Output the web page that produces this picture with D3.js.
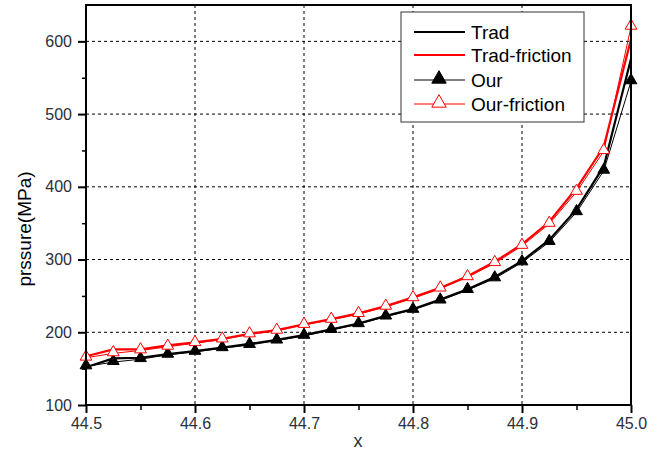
<!DOCTYPE html>
<html>
<head>
<meta charset="utf-8">
<script src="https://cdn.jsdelivr.net/npm/d3@7"></script>
<style>
body { margin: 0; background: #fff; }
svg { display: block; font-family: "Liberation Sans", Arial, sans-serif; }
.axis path, .axis line { stroke: #000; stroke-width: 2px; }
.axis text { font-size: 16px; fill: #2b2f3a; }
.minor line { stroke-width: 1.5px; }
.grid line { stroke: #000; stroke-width: 1px; stroke-dasharray: 3,3; }
</style>
</head>
<body>
<svg width="648" height="455"></svg>
<script>
var xs = [44.5, 44.525, 44.55, 44.575, 44.6, 44.625, 44.65, 44.675, 44.7, 44.725, 44.75,
          44.775, 44.8, 44.825, 44.85, 44.875, 44.9, 44.925, 44.95, 44.975, 45.0];

var trad         = [152, 164, 165, 170, 174, 179, 184, 189.5, 196, 204, 212, 222.5, 232, 245, 259, 276, 298, 327, 369, 428, 576];
var tradFriction = [167, 176.5, 176.5, 182, 186, 191, 198, 203, 211, 218, 226, 236, 248, 261, 277, 297, 321, 352, 398, 455, 603];
var our          = [153, 159, 163, 169, 173, 178, 182.5, 188.5, 195, 203, 211, 221.5, 230.7, 243.5, 258, 274, 296, 324, 365, 422, 545];
var ourFriction  = [165, 171, 175, 180, 185, 190, 197, 202, 210, 217, 225, 235, 246.7, 260, 275.6, 295, 318.7, 349, 393, 449, 620];

var xTicks = [44.5, 44.6, 44.7, 44.8, 44.9, 45.0];
var yTicks = [100, 200, 300, 400, 500, 600];
var seriesNames = ["Trad", "Trad-friction", "Our", "Our-friction"];

var svg = d3.select("svg"),
    margin = {top: 5, right: 17, bottom: 50, left: 86},
    width = +svg.attr("width") - margin.left - margin.right,
    height = +svg.attr("height") - margin.top - margin.bottom,
    g = svg.append("g").attr("transform", "translate(" + margin.left + "," + margin.top + ")");

var x = d3.scaleLinear().domain([44.5, 45.0]).range([0, width]);
var y = d3.scaleLinear().domain([100, 650]).range([height, 0]);

var series = [
  {name: seriesNames[0], values: trad, color: "#000", width: 2.2, marker: null},
  {name: seriesNames[1], values: tradFriction, color: "#f00", width: 2.2, marker: null},
  {name: seriesNames[2], values: our, color: "#000", width: 1, marker: "filled"},
  {name: seriesNames[3], values: ourFriction, color: "#f00", width: 1, marker: "hollow"}
];

// grid
g.append("g").attr("class", "grid")
  .selectAll("line")
  .data(yTicks.slice(1))
  .enter().append("line")
    .attr("x1", 0).attr("x2", width)
    .attr("y1", function(d) { return y(d); })
    .attr("y2", function(d) { return y(d); });

g.append("g").attr("class", "grid")
  .selectAll("line")
  .data(xTicks.slice(1, -1))
  .enter().append("line")
    .attr("y1", 0).attr("y2", height)
    .attr("x1", function(d) { return x(d); })
    .attr("x2", function(d) { return x(d); });

// minor ticks
g.append("g").attr("class", "axis minor")
  .attr("transform", "translate(0," + height + ")")
  .call(d3.axisBottom(x).tickValues([44.55, 44.65, 44.75, 44.85, 44.95]).tickSize(5).tickFormat(""))
  .select(".domain").remove();

g.append("g").attr("class", "axis minor")
  .call(d3.axisLeft(y).tickValues([150, 250, 350, 450, 550]).tickSize(4).tickFormat(""))
  .select(".domain").remove();

// lines
var tri = d3.symbol().type(d3.symbolTriangle).size(60);

series.forEach(function(s) {
  var line = d3.line()
    .x(function(d, i) { return x(xs[i]); })
    .y(function(d) { return y(d); });

  g.append("path")
    .datum(s.values)
    .attr("fill", "none")
    .attr("stroke", s.color)
    .attr("stroke-width", s.width)
    .attr("d", line);

  if (s.marker) {
    g.append("g").selectAll("path")
      .data(s.values)
      .enter().append("path")
        .attr("d", tri)
        .attr("transform", function(d, i) { return "translate(" + x(xs[i]) + "," + (y(d) - 1) + ")"; })
        .attr("fill", s.marker == "filled" ? "#000" : "#fff")
        .attr("stroke", s.color)
        .attr("stroke-width", 1);
  }
});

// axes
g.append("g")
  .attr("class", "axis axis--x")
  .attr("transform", "translate(0," + height + ")")
  .call(d3.axisBottom(x).tickValues(xTicks).tickSize(8).tickPadding(5).tickFormat(d3.format(".1f")));

g.append("g")
  .attr("class", "axis axis--y")
  .call(d3.axisLeft(y).tickValues(yTicks).tickSize(8).tickPadding(6));

g.selectAll(".axis--x .domain, .axis--y .domain").remove();

// frame
g.append("rect")
  .attr("width", width).attr("height", height)
  .attr("fill", "none")
  .attr("stroke", "#000")
  .attr("stroke-width", 2);

// axis titles
svg.append("text")
  .attr("x", 358).attr("y", 447)
  .attr("text-anchor", "middle")
  .style("font-size", "18px")
  .attr("fill", "#2b2f3a")
  .text("x");

svg.append("text")
  .attr("transform", "translate(31,229) rotate(-90)")
  .attr("text-anchor", "middle")
  .style("font-size", "19px")
  .attr("fill", "#000")
  .text("prssure(MPa)");

// legend
var legend = svg.append("g").attr("transform", "translate(401,12)");
legend.append("rect")
  .attr("width", 183).attr("height", 110)
  .attr("fill", "#fff")
  .attr("stroke", "#333")
  .attr("stroke-width", 1);

var item = legend.selectAll(".item")
  .data(series)
  .enter().append("g")
    .attr("class", "item")
    .attr("transform", function(d, i) { return "translate(0," + [20, 43, 68, 92][i] + ")"; });

item.append("line")
  .attr("x1", 13).attr("x2", 64)
  .attr("stroke", function(d) { return d.color; })
  .attr("stroke-width", function(d) { return d.width == 1 ? 1.2 : 2; });

item.filter(function(d) { return d.marker; })
  .append("path")
    .attr("d", d3.symbol().type(d3.symbolTriangle).size(90))
    .attr("transform", "translate(38,-1)")
    .attr("fill", function(d) { return d.marker == "filled" ? "#000" : "#fff"; })
    .attr("stroke", function(d) { return d.color; });

item.append("text")
  .attr("x", 70).attr("y", 7)
  .style("font-size", "19px")
  .attr("fill", "#000")
  .text(function(d) { return d.name; });
</script>
</body>
</html>
